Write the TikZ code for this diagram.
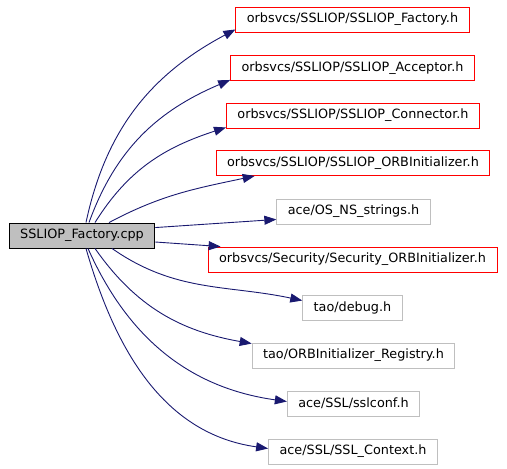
\documentclass[tikz,border=0pt]{standalone}
\usepackage{fontspec}
\setmainfont{DejaVu Sans}
\usepackage{tikz}
\usetikzlibrary{arrows.meta}

\definecolor{edgeblue}{HTML}{191970}
\definecolor{boxgray}{HTML}{BFBFBF}

\begin{document}
\begin{tikzpicture}[x=1pt, y=-1pt,
    file/.style={draw, rectangle, line width=0.9pt, inner xsep=11pt, inner ysep=0pt,
      minimum height=25pt, font=\fontsize{12.8}{14}\selectfont},
    src/.style={file, draw=black, fill=boxgray},
    local/.style={file, draw=red},
    sys/.style={file, draw=boxgray},
    dep/.style={draw=edgeblue, line width=0.9pt, -{Triangle[length=12pt, width=9pt]}}]
\useasboundingbox (0,0) rectangle (507,469);
\node[src] (main) at (82,235.5) {SSLIOP\_Factory.cpp};
\node[local] (fac) at (352.5,19.5) {orbsvcs/SSLIOP/SSLIOP\_Factory.h};
\node[local] (acc) at (352.5,68) {orbsvcs/SSLIOP/SSLIOP\_Acceptor.h};
\node[local] (con) at (353,115.5) {orbsvcs/SSLIOP/SSLIOP\_Connector.h};
\node[local] (orb) at (353,163) {orbsvcs/SSLIOP/SSLIOP\_ORBInitializer.h};
\node[sys] (ns) at (353.5,211.5) {ace/OS\_NS\_strings.h};
\node[local] (sec) at (352.5,259.5) {orbsvcs/Security/Security\_ORBInitializer.h};
\node[sys] (deb) at (352.5,307.5) {tao/debug.h};
\node[sys] (reg) at (353.5,355.5) {tao/ORBInitializer\_Registry.h};
\node[sys] (sslc) at (353.5,403.5) {ace/SSL/sslconf.h};
\node[sys] (ctx) at (353,451.5) {ace/SSL/SSL\_Context.h};
% includes
\draw[dep] ([xshift=4pt]main.north) to[out=78,in=208] ([yshift=3pt]fac.south west);
\draw[dep] ([xshift=7pt]main.north) to[out=70,in=203] ([yshift=1pt]acc.south west);
\draw[dep] ([xshift=13pt]main.north) to[out=58,in=198] ([yshift=1pt]con.south west);
\draw[dep] ([xshift=27pt]main.north) to[out=28,in=192] ([xshift=39pt]orb.south west);
\draw[dep] ([yshift=-5pt]main.north east) -- ([yshift=5pt]ns.south west);
\draw[dep] ([yshift=-6.5pt]main.east) -- ([xshift=13pt]sec.north west);
\draw[dep] ([xshift=30pt]main.south) to[out=-35,in=168] ([yshift=-6pt]deb.north west);
\draw[dep] ([xshift=13pt]main.south) to[out=-55,in=170] ([yshift=-1pt]reg.north west);
\draw[dep] ([xshift=6pt]main.south) to[out=-66,in=172] ([yshift=2pt]sslc.west);
\draw[dep] ([xshift=4pt]main.south) to[out=-74,in=172] ([yshift=3pt]ctx.west);
\end{tikzpicture}
\end{document}
